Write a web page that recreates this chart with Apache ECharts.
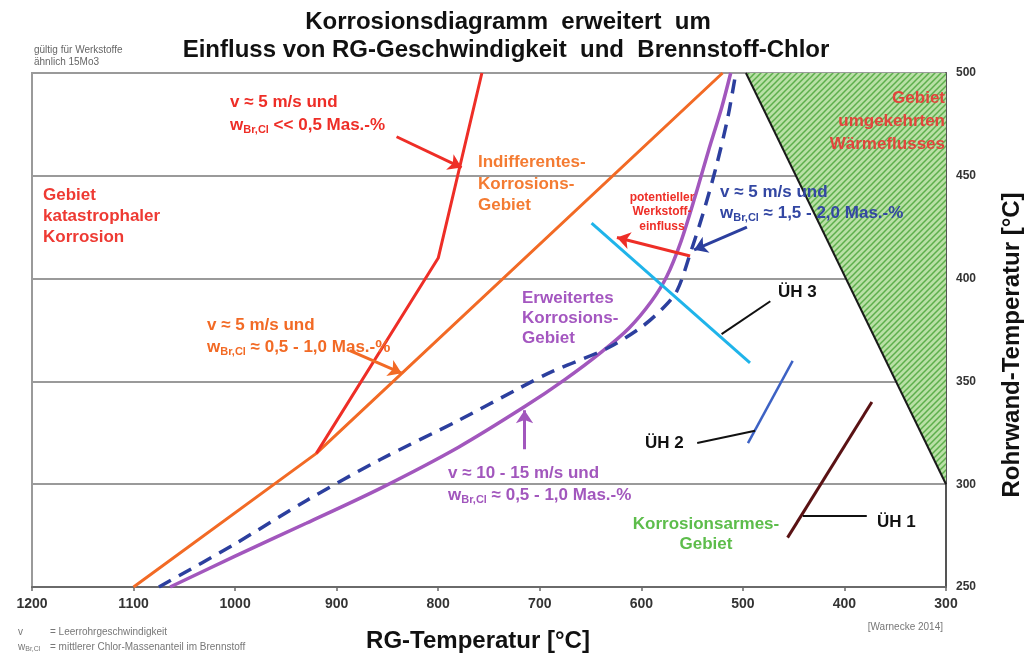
<!DOCTYPE html>
<html>
<head>
<meta charset="utf-8">
<script src="https://cdn.jsdelivr.net/npm/echarts@6/dist/echarts.min.js"></script>
<style>
  html, body { margin: 0; padding: 0; background: #fff; }
  #chart { width: 1033px; height: 656px; }
</style>
</head>
<body>
<div id="chart"></div>
<script>
const FONT = '"Liberation Sans", Arial, sans-serif';

// Boundary lines: [RG-Temperatur °C, Rohrwand-Temperatur °C]
const lowSpeedLowCl  = [[920, 315], [800, 410], [757, 500]];                 // v ≈ 5 m/s, w << 0,5 %
const lowSpeedMidCl  = [[1100, 250], [920, 315], [520, 500]];                // v ≈ 5 m/s, w ≈ 0,5 - 1,0 %
const highSpeedMidCl = [[1064, 250], [1000, 265], [930, 281], [857, 298], [780, 318], [714, 338],
                        [675, 351], [640, 364], [612, 376], [590, 389], [575, 401], [561, 418],
                        [547, 440], [534, 462], [521, 483], [512, 500]];      // v ≈ 10 - 15 m/s
const lowSpeedHighCl = [[1075, 250], [1000, 271], [930, 292], [857, 312], [780, 331], [719, 347],
                        [687, 355], [634, 366], [601, 376], [580, 385], [565, 394], [552, 412],
                        [539, 432], [526, 455], [515, 478], [507, 500]];      // v ≈ 5 m/s, w ≈ 1,5 - 2,0 %
const superheater3 = [[649, 427], [493, 359]];
const superheater2 = [[495, 320], [451, 360]];
const superheater1 = [[456, 274], [373, 340]];
const reverseHeatFlow = [[497, 500], [300, 500], [300, 300]];

// Annotation arrows [from, to]
const redArrows    = [[[841, 469], [777, 454]], [[552, 411], [624, 420]]];
const orangeArrows = [[[887, 365], [836, 354]]];
const purpleArrows = [[[715, 317], [715, 336]]];
const blueArrows   = [[[496, 425], [548, 414]]];
const pointerLines = [[[521, 373], [473, 389]], [[545, 320], [488, 326]], [[441, 284.5], [378, 284.5]]];

// Hatched fill for the reverse heat flow region
const hatch = document.createElement('canvas');
hatch.width = 6; hatch.height = 6;
(function () {
  const c = hatch.getContext('2d');
  c.fillStyle = '#b9e0a6';
  c.fillRect(0, 0, 6, 6);
  c.strokeStyle = '#5daf4c';
  c.lineWidth = 1.5;
  c.beginPath();
  c.moveTo(-1, 7); c.lineTo(7, -1);
  c.moveTo(-4, 4); c.lineTo(4, -4);
  c.moveTo(2, 10); c.lineTo(10, 2);
  c.stroke();
})();

function lineSeries(data, color, width, extra) {
  return Object.assign({
    type: 'line', data, symbol: 'none', silent: true, z: 3,
    lineStyle: { color, width }
  }, extra || {});
}
function arrowSeries(list, color) {
  return {
    type: 'lines', coordinateSystem: 'cartesian2d', silent: true, z: 5,
    symbol: ['none', 'arrow'], symbolSize: 13,
    lineStyle: { color, width: 3, opacity: 1 },
    data: list.map(c => ({ coords: c }))
  };
}

function txt(x, y, text, color, size, opts) {
  return {
    type: 'text', x, y, silent: true, z: 10,
    style: Object.assign({
      text, fill: color, fontFamily: FONT, fontSize: size, fontWeight: 'bold',
      align: 'left', verticalAlign: 'middle', lineHeight: size + 4
    }, opts || {})
  };
}
function wTxt(x, y, rest, color, size) {
  const sub = Math.round(size * 0.62);
  return {
    type: 'text', x, y, silent: true, z: 10,
    style: {
      text: '{m|w}{s|Br,Cl}{m|' + rest + '}',
      align: 'left', verticalAlign: 'middle',
      rich: {
        m: { fill: color, fontFamily: FONT, fontSize: size, fontWeight: 'bold', lineHeight: size + 4 },
        s: { fill: color, fontFamily: FONT, fontSize: sub, fontWeight: 'bold', lineHeight: sub, verticalAlign: 'bottom' }
      }
    }
  };
}

const RED = '#ee2e27', ORANGE = '#f26a25', PURPLE = '#a257bd', BLUE = '#2c3f9e';

const chart = echarts.init(document.getElementById('chart'), null, { renderer: 'canvas' });
chart.setOption({
  backgroundColor: '#ffffff',
  animation: false,
  grid: { left: 32, right: 87, top: 73, bottom: 69, show: true, borderColor: '#9a9a9a', borderWidth: 2 },
  xAxis: {
    type: 'value', min: 300, max: 1200, interval: 100, inverse: true,
    axisLine: { show: true, lineStyle: { color: '#6a6a6a', width: 2 } },
    axisTick: { show: true, length: 4, lineStyle: { color: '#6a6a6a', width: 1.5 } },
    axisLabel: { color: '#333', fontFamily: FONT, fontSize: 14, fontWeight: 'bold', margin: 10, formatter: v => String(v) },
    splitLine: { show: false }
  },
  yAxis: {
    type: 'value', position: 'right', min: 250, max: 500, interval: 50,
    axisLine: { show: true, lineStyle: { color: '#555', width: 2 } },
    axisTick: { show: false },
    axisLabel: { color: '#333', fontFamily: FONT, fontSize: 12, fontWeight: 'bold', margin: 10, formatter: v => String(v) },
    splitLine: { show: true, lineStyle: { color: '#9a9a9a', width: 2 } }
  },
  series: [
    {
      type: 'custom', silent: true, z: 2,
      renderItem: function (params, api) {
        const pts = reverseHeatFlow.map(p => api.coord(p));
        return {
          type: 'group', children: [
            { type: 'polygon', shape: { points: pts }, style: { fill: { image: hatch, repeat: 'repeat' }, stroke: null } },
            { type: 'line', shape: { x1: pts[0][0], y1: pts[0][1], x2: pts[2][0], y2: pts[2][1] }, style: { stroke: '#1a1a1a', lineWidth: 2 } }
          ]
        };
      },
      data: [0]
    },
    lineSeries(lowSpeedMidCl, ORANGE, 3),
    lineSeries(lowSpeedLowCl, RED, 3),
    lineSeries(highSpeedMidCl, PURPLE, 3.5, { smooth: 0.3 }),
    lineSeries(lowSpeedHighCl, BLUE, 3.5, { smooth: 0.3, lineStyle: { color: BLUE, width: 3.5, type: [14, 9] } }),
    lineSeries(superheater3, '#1fb4ea', 3),
    lineSeries(superheater2, '#3d62c4', 2.5),
    lineSeries(superheater1, '#5a1214', 3),
    arrowSeries(redArrows, RED),
    arrowSeries(orangeArrows, ORANGE),
    arrowSeries(purpleArrows, PURPLE),
    arrowSeries(blueArrows, BLUE),
    {
      type: 'lines', coordinateSystem: 'cartesian2d', silent: true, z: 5,
      lineStyle: { color: '#111', width: 2, opacity: 1 },
      data: pointerLines.map(c => ({ coords: c }))
    }
  ],
  graphic: [
    // titles
    txt(508, 22, 'Korrosionsdiagramm  erweitert  um', '#111', 24, { align: 'center' }),
    txt(506, 50, 'Einfluss von RG-Geschwindigkeit  und  Brennstoff-Chlor', '#111', 24, { align: 'center' }),
    txt(34, 50, 'gültig für Werkstoffe', '#666', 10, { fontWeight: 'normal' }),
    txt(34, 62, 'ähnlich 15Mo3', '#666', 10, { fontWeight: 'normal' }),

    // region labels
    txt(43, 185, 'Gebiet\nkatastrophaler\nKorrosion', '#ee3a33', 17, { verticalAlign: 'top', lineHeight: 21 }),
    txt(478, 152, 'Indifferentes-\nKorrosions-\nGebiet', '#f47b32', 17, { verticalAlign: 'top', lineHeight: 21.5 }),
    txt(522, 288, 'Erweitertes\nKorrosions-\nGebiet', '#a457c0', 17, { verticalAlign: 'top', lineHeight: 20 }),
    txt(945, 87, 'Gebiet\numgekehrten\nWärmeflusses', '#e2453c', 17, { align: 'right', verticalAlign: 'top', lineHeight: 23 }),
    txt(706, 514, 'Korrosionsarmes-\nGebiet', '#5dbd4b', 17, { align: 'center', verticalAlign: 'top', lineHeight: 20 }),
    txt(662, 190, 'potentieller\nWerkstoff-\neinfluss', '#ee2e27', 12, { align: 'center', verticalAlign: 'top', lineHeight: 14.5 }),

    // condition labels
    txt(230, 102, 'v ≈ 5 m/s und', RED, 17),
    wTxt(230, 125, ' << 0,5 Mas.-%', RED, 17),
    txt(207, 325, 'v ≈ 5 m/s und', ORANGE, 17),
    wTxt(207, 347, ' ≈ 0,5 - 1,0 Mas.-%', ORANGE, 17),
    txt(720, 192, 'v ≈ 5 m/s und', '#3347a3', 17),
    wTxt(720, 213, ' ≈ 1,5 - 2,0 Mas.-%', '#3347a3', 17),
    txt(448, 473, 'v ≈ 10 - 15 m/s und', PURPLE, 17),
    wTxt(448, 495, ' ≈ 0,5 - 1,0 Mas.-%', PURPLE, 17),

    // superheater labels
    txt(778, 292, 'ÜH 3', '#111', 17),
    txt(645, 443, 'ÜH 2', '#111', 17),
    txt(877, 522, 'ÜH 1', '#111', 17),

    // axis names
    txt(478, 641, 'RG-Temperatur [°C]', '#111', 24, { align: 'center' }),
    {
      type: 'text', x: 1012, y: 345, rotation: Math.PI / 2, silent: true, z: 10,
      style: { text: 'Rohrwand-Temperatur [°C]', fill: '#111', fontFamily: FONT, fontSize: 24, fontWeight: 'bold', align: 'center', verticalAlign: 'middle' }
    },

    // footnotes
    txt(18, 632, 'v', '#777', 10, { fontWeight: 'normal' }),
    txt(50, 632, '= Leerrohrgeschwindigkeit', '#777', 10, { fontWeight: 'normal' }),
    {
      type: 'text', x: 18, y: 647, silent: true, z: 10,
      style: {
        text: '{m|w}{s|Br,Cl}', align: 'left', verticalAlign: 'middle',
        rich: {
          m: { fill: '#777', fontFamily: FONT, fontSize: 10, lineHeight: 12 },
          s: { fill: '#777', fontFamily: FONT, fontSize: 7, lineHeight: 7, verticalAlign: 'bottom' }
        }
      }
    },
    txt(50, 647, '= mittlerer Chlor-Massenanteil im Brennstoff', '#777', 10, { fontWeight: 'normal' }),
    txt(943, 627, '[Warnecke 2014]', '#777', 10, { fontWeight: 'normal', align: 'right' })
  ]
});
</script>
</body>
</html>
